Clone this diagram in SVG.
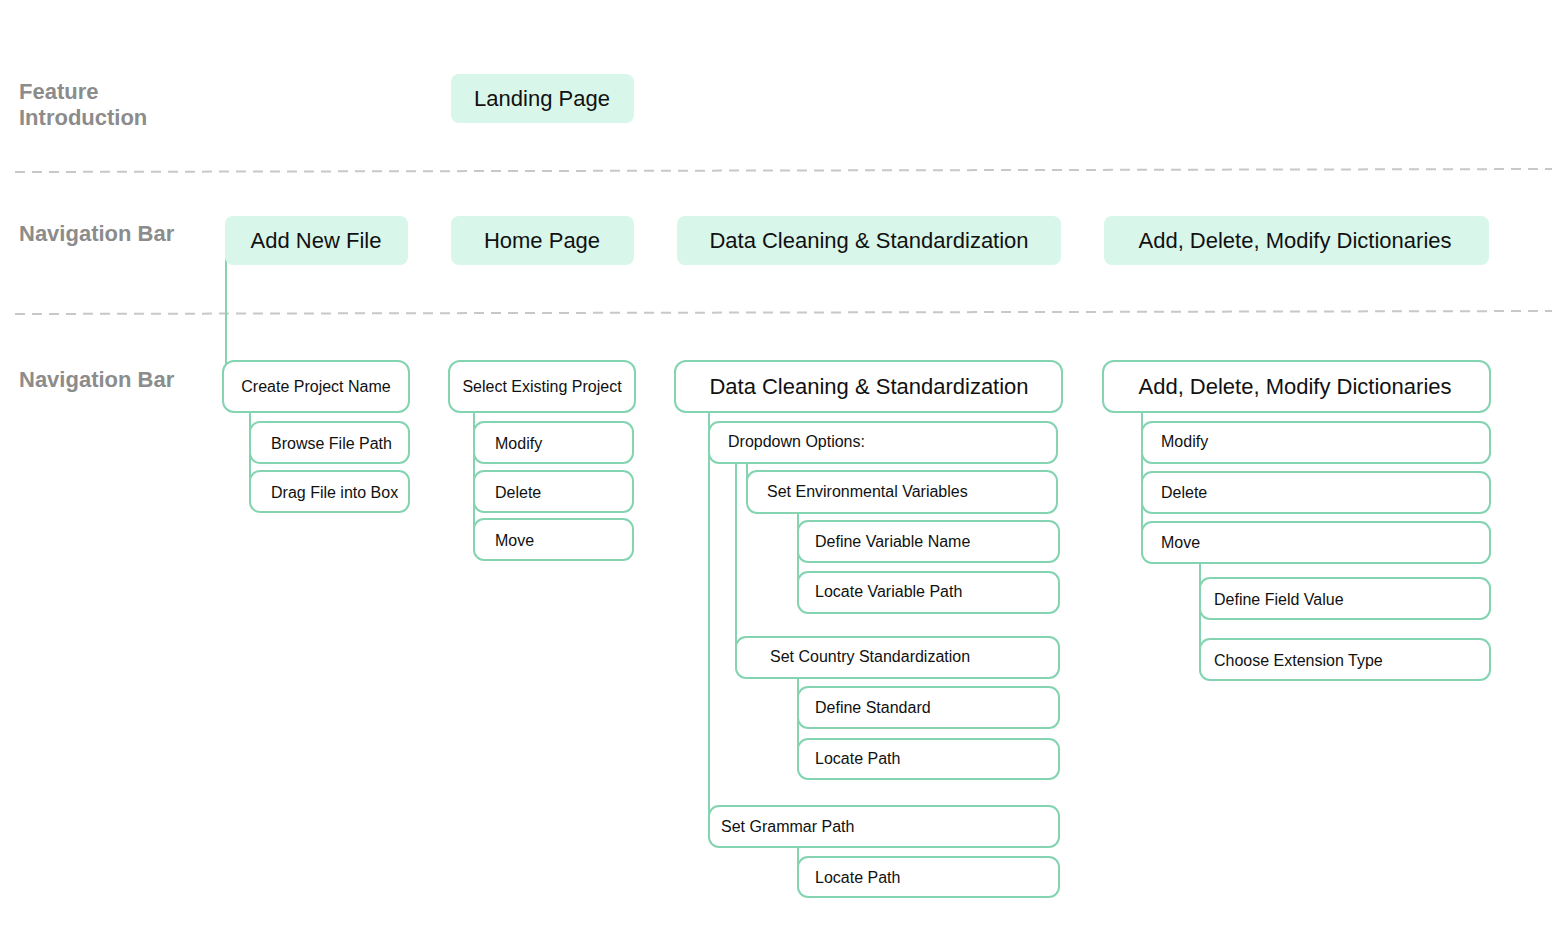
<svg xmlns="http://www.w3.org/2000/svg" width="1566" height="932" viewBox="0 0 1566 932">
<style>
.lbl{font-family:"Liberation Sans",Arial,sans-serif;font-weight:bold;font-size:22px;fill:#8c8c8c}
.top rect{fill:#d9f6ea;stroke:none}
.top text{font-family:"Liberation Sans",Arial,sans-serif;font-size:22px;fill:#111;text-anchor:middle}
.nd rect{fill:#fff;stroke:#84d4b1;stroke-width:2}
.nd text{font-family:"Liberation Sans",Arial,sans-serif;font-size:16px;fill:#111}
.nd text.big{font-size:22px;text-anchor:middle}
.nd text.mid{text-anchor:middle}
.sep{stroke:#c8c8c8;stroke-width:2;stroke-dasharray:10 7;fill:none}
.cn{stroke:#84d4b1;stroke-width:2;fill:none}
</style>
<rect width="1566" height="932" fill="#fff"/>
<g id="labels">
<text class="lbl" x="19" y="99">Feature</text>
<text class="lbl" x="19" y="125">Introduction</text>
<text class="lbl" x="19" y="241">Navigation Bar</text>
<text class="lbl" x="19" y="387">Navigation Bar</text>
</g>
<g id="separators">
<line class="sep" x1="15" y1="172" x2="1552" y2="169"/>
<line class="sep" x1="15" y1="314" x2="1552" y2="311"/>
</g>
<g id="connectors">
<line class="cn" x1="226" y1="258" x2="226" y2="374"/>
<line class="cn" x1="250" y1="412" x2="250" y2="500"/>
<line class="cn" x1="474" y1="412" x2="474" y2="548"/>
<line class="cn" x1="709" y1="412" x2="709" y2="818"/>
<line class="cn" x1="736" y1="463" x2="736" y2="650"/>
<line class="cn" x1="747" y1="463" x2="747" y2="484"/>
<line class="cn" x1="798" y1="513" x2="798" y2="600"/>
<line class="cn" x1="798" y1="678" x2="798" y2="766"/>
<line class="cn" x1="798" y1="847" x2="798" y2="870"/>
<line class="cn" x1="1142" y1="412" x2="1142" y2="550"/>
<line class="cn" x1="1200" y1="563" x2="1200" y2="667"/>
</g>
<g id="landing-page" class="top"><rect x="451" y="74" width="183" height="49" rx="8"/><text x="542" y="106">Landing Page</text></g>
<g id="add-new-file" class="top"><rect x="225" y="216" width="183" height="49" rx="8"/><text x="316" y="248">Add New File</text></g>
<g id="home-page" class="top"><rect x="451" y="216" width="183" height="49" rx="8"/><text x="542" y="248">Home Page</text></g>
<g id="data-cleaning-nav" class="top"><rect x="677" y="216" width="384" height="49" rx="8"/><text x="869" y="248">Data Cleaning &amp; Standardization</text></g>
<g id="dictionaries-nav" class="top"><rect x="1104" y="216" width="385" height="49" rx="8"/><text x="1295" y="248">Add, Delete, Modify Dictionaries</text></g>

<g id="create-project-name" class="nd"><rect x="223" y="361" width="186" height="51" rx="11"/><text class="mid" x="316" y="392">Create Project Name</text></g>
<g id="browse-file-path" class="nd"><rect x="250" y="422" width="159" height="41" rx="10"/><text x="271" y="449">Browse File Path</text></g>
<g id="drag-file-into-box" class="nd"><rect x="250" y="471" width="159" height="41" rx="10"/><text x="271" y="498">Drag File into Box</text></g>

<g id="select-existing-project" class="nd"><rect x="449" y="361" width="186" height="51" rx="11"/><text class="mid" x="542" y="392">Select Existing Project</text></g>
<g id="home-modify" class="nd"><rect x="474" y="422" width="159" height="41" rx="10"/><text x="495" y="449">Modify</text></g>
<g id="home-delete" class="nd"><rect x="474" y="471" width="159" height="41" rx="10"/><text x="495" y="498">Delete</text></g>
<g id="home-move" class="nd"><rect x="474" y="519" width="159" height="41" rx="10"/><text x="495" y="546">Move</text></g>

<g id="data-cleaning" class="nd"><rect x="675" y="361" width="387" height="51" rx="11"/><text class="big" x="869" y="394">Data Cleaning &amp; Standardization</text></g>
<g id="dropdown-options" class="nd"><rect x="709" y="422" width="348" height="41" rx="10"/><text x="728" y="447">Dropdown Options:</text></g>
<g id="set-env-vars" class="nd"><rect x="747" y="471" width="310" height="42" rx="10"/><text x="767" y="497">Set Environmental Variables</text></g>
<g id="define-variable-name" class="nd"><rect x="798" y="521" width="261" height="41" rx="10"/><text x="815" y="547">Define Variable Name</text></g>
<g id="locate-variable-path" class="nd"><rect x="798" y="572" width="261" height="41" rx="10"/><text x="815" y="597">Locate Variable Path</text></g>
<g id="set-country-std" class="nd"><rect x="736" y="637" width="323" height="41" rx="10"/><text x="770" y="662">Set Country Standardization</text></g>
<g id="define-standard" class="nd"><rect x="798" y="687" width="261" height="41" rx="10"/><text x="815" y="713">Define Standard</text></g>
<g id="locate-path-1" class="nd"><rect x="798" y="739" width="261" height="40" rx="10"/><text x="815" y="764">Locate Path</text></g>
<g id="set-grammar-path" class="nd"><rect x="709" y="806" width="350" height="41" rx="10"/><text x="721" y="832">Set Grammar Path</text></g>
<g id="locate-path-2" class="nd"><rect x="798" y="857" width="261" height="40" rx="10"/><text x="815" y="883">Locate Path</text></g>

<g id="dictionaries" class="nd"><rect x="1103" y="361" width="387" height="51" rx="11"/><text class="big" x="1295" y="394">Add, Delete, Modify Dictionaries</text></g>
<g id="dict-modify" class="nd"><rect x="1142" y="422" width="348" height="41" rx="10"/><text x="1161" y="447">Modify</text></g>
<g id="dict-delete" class="nd"><rect x="1142" y="472" width="348" height="41" rx="10"/><text x="1161" y="498">Delete</text></g>
<g id="dict-move" class="nd"><rect x="1142" y="522" width="348" height="41" rx="10"/><text x="1161" y="548">Move</text></g>
<g id="define-field-value" class="nd"><rect x="1200" y="578" width="290" height="41" rx="10"/><text x="1214" y="605">Define Field Value</text></g>
<g id="choose-extension-type" class="nd"><rect x="1200" y="639" width="290" height="41" rx="10"/><text x="1214" y="666">Choose Extension Type</text></g>
</svg>
